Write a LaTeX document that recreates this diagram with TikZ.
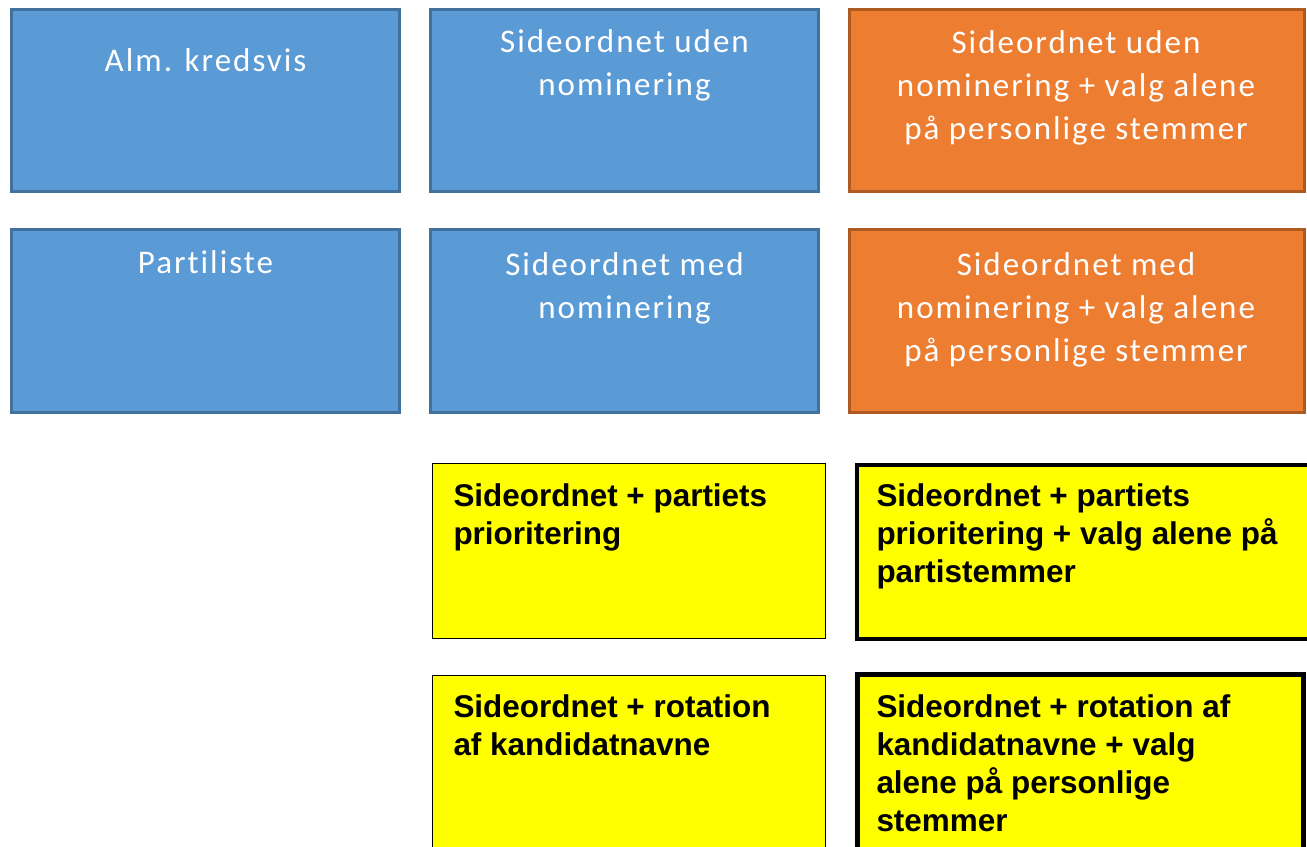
\documentclass[tikz,border=0pt]{standalone}
\usepackage{fontspec}
\setmainfont{Liberation Sans}
\newfontfamily\boxfont[LetterSpace=6,Ligatures=NoCommon]{Carlito}
\usetikzlibrary{positioning}

\definecolor{boxblue}{HTML}{5B9BD5}
\definecolor{boxblueline}{HTML}{41719C}
\definecolor{boxorange}{HTML}{ED7D31}
\definecolor{boxorangeline}{HTML}{AE5A21}
\definecolor{boxyellow}{HTML}{FFFF00}

\begin{document}
\begin{tikzpicture}
  [
  x=0.02cm, y=-0.02cm, line width=1.7pt,
  bluebox/.style={rectangle, inner sep=0pt, fill=boxblue, draw=boxblueline},
  orangebox/.style={rectangle, inner sep=0pt, fill=boxorange, draw=boxorangeline},
  yellowbox/.style={rectangle, inner sep=0pt, fill=boxyellow, draw=black, line width=0.8pt},
  strongbox/.style={yellowbox, line width=2.6pt},
  whitetext/.style={text=white, align=center, inner sep=0pt, anchor=base, font=\boxfont\fontsize{18.8}{24.7}\selectfont},
  blacktext/.style={align=left, inner sep=0pt, anchor=base west, font=\bfseries\fontsize{17.9}{21.6}\selectfont},
  ]

  \useasboundingbox (0,0) rectangle (1307,847);
  \clip (0,0) rectangle (1307,847);

  % blue and orange boxes
  \node[bluebox, minimum width=7.76cm, minimum height=3.64cm] (kreds) at (205.5,100.5) {};
  \node[bluebox, minimum width=7.76cm, minimum height=3.64cm] (udennom) at (624.5,100.5) {};
  \node[orangebox, minimum width=9.1cm, minimum height=3.64cm] (udenvalg) at (1077,100.5) {};
  \node[bluebox, minimum width=7.76cm, minimum height=3.66cm] (parti) at (205.5,321) {};
  \node[bluebox, minimum width=7.76cm, minimum height=3.66cm] (mednom) at (624.5,321) {};
  \node[orangebox, minimum width=9.1cm, minimum height=3.66cm] (medvalg) at (1077,321) {};

  % text nodes sit on the baseline of their last line
  \node[whitetext] (kredstxt) at (205.5,72) {Alm. kredsvis};
  \node[whitetext] (udennomtxt) at (624.5,96) {Sideordnet uden\\nominering};
  \node[whitetext] (udenvalgtxt) at (1076,140) {Sideordnet uden\\nominering + valg alene\\på personlige stemmer};
  \node[whitetext] (partitxt) at (205.5,274) {Partiliste};
  \node[whitetext] (mednomtxt) at (624.5,319) {Sideordnet med\\nominering};
  \node[whitetext] (medvalgtxt) at (1076,362) {Sideordnet med\\nominering + valg alene\\på personlige stemmer};

  % yellow boxes
  \node[yellowbox, minimum width=7.85cm, minimum height=3.5cm] (prio) at (629,551) {};
  \node[strongbox, minimum width=9.08cm, minimum height=3.48cm] (priovalg) at (1084,552) {};
  \node[yellowbox, minimum width=7.85cm, minimum height=3.7cm] (rot) at (629,768) {};
  \node[strongbox, minimum width=8.93cm, minimum height=3.9cm] (rotvalg) at (1080.5,772) {};

  \node[blacktext] (priotxt) at (452,544) {Sideordnet + partiets\\prioritering};
  \node[blacktext] (priovalgtxt) at (875,582) {Sideordnet + partiets\\prioritering + valg alene på\\partistemmer};
  \node[blacktext] (rottxt) at (452,755) {Sideordnet + rotation\\af kandidatnavne};
  \node[blacktext] (rotvalgtxt) at (875,831) {Sideordnet + rotation af\\kandidatnavne + valg\\alene på personlige\\stemmer};

\end{tikzpicture}
\end{document}
